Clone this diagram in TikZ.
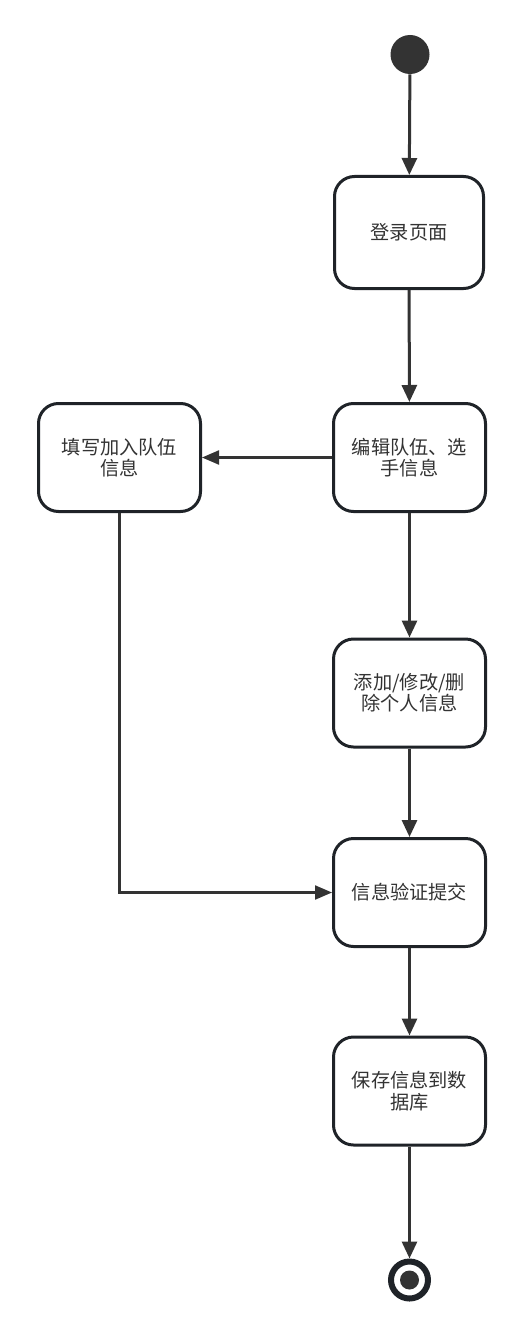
\documentclass[tikz,border=0pt]{standalone}
\usepackage{fontspec}
\newfontfamily\cjk{Noto Sans CJK SC}
\usetikzlibrary{arrows.meta}
\definecolor{linec}{HTML}{333333}
\definecolor{boxc}{HTML}{1F2328}
\definecolor{textc}{HTML}{333333}
\begin{document}
\begin{tikzpicture}[x=0.75pt,y=-0.75pt,
  state/.style={draw=boxc, fill=white, line width=2.25pt, rounded corners=15pt,
    inner sep=0pt, align=center, text=textc,
    font=\cjk\fontsize{14.4pt}{16pt}\selectfont},
  thickarrow/.style={draw=linec, line width=2.25pt,
    -{Triangle[width=11.25pt,length=12.75pt]}},
  thinarrow/.style={draw=linec, line width=1.6pt,
    -{Triangle[width=10.5pt,length=12.75pt]}}]
\useasboundingbox (0,0) rectangle (523,1334);
% initial and final states
\node[circle, fill=linec, inner sep=0pt, minimum size=29.25pt] (start) at (410,54.5) {};
\node[circle, draw=boxc, line width=4.5pt, fill=white, inner sep=0pt, minimum size=27.75pt] (end) at (409.5,1280) {};
\fill[linec] (end.center) circle[radius=9.5];
% state nodes
\node[state, minimum width=111.75pt, minimum height=84pt] (login) at (409,232.5) {登录页面};
\node[state, minimum width=114pt, minimum height=81pt] (edit) at (409.5,457.5) {编辑队伍、选\\手信息};
\node[state, minimum width=121.5pt, minimum height=81pt] (fill) at (119.5,457.5) {填写加入队伍\\信息};
\node[state, minimum width=114pt, minimum height=81pt] (modify) at (409.5,693) {添加/修改/删\\除个人信息};
\node[state, minimum width=114pt, minimum height=81pt] (verify) at (409.5,892.5) {信息验证提交};
\node[state, minimum width=114pt, minimum height=81pt] (save) at (409.5,1091) {保存信息到数\\据库};
% connectors
\draw[thickarrow] (start) -- (login);
\draw[thickarrow] (login) -- (edit);
\draw[thinarrow] (edit) -- (fill);
\draw[thickarrow] (edit) -- (modify);
\draw[thickarrow] (modify) -- (verify);
\draw[thinarrow] (fill.south) |- (verify.west);
\draw[thickarrow] (verify) -- (save);
\draw[thickarrow] (save) -- (end);
\end{tikzpicture}
\end{document}
